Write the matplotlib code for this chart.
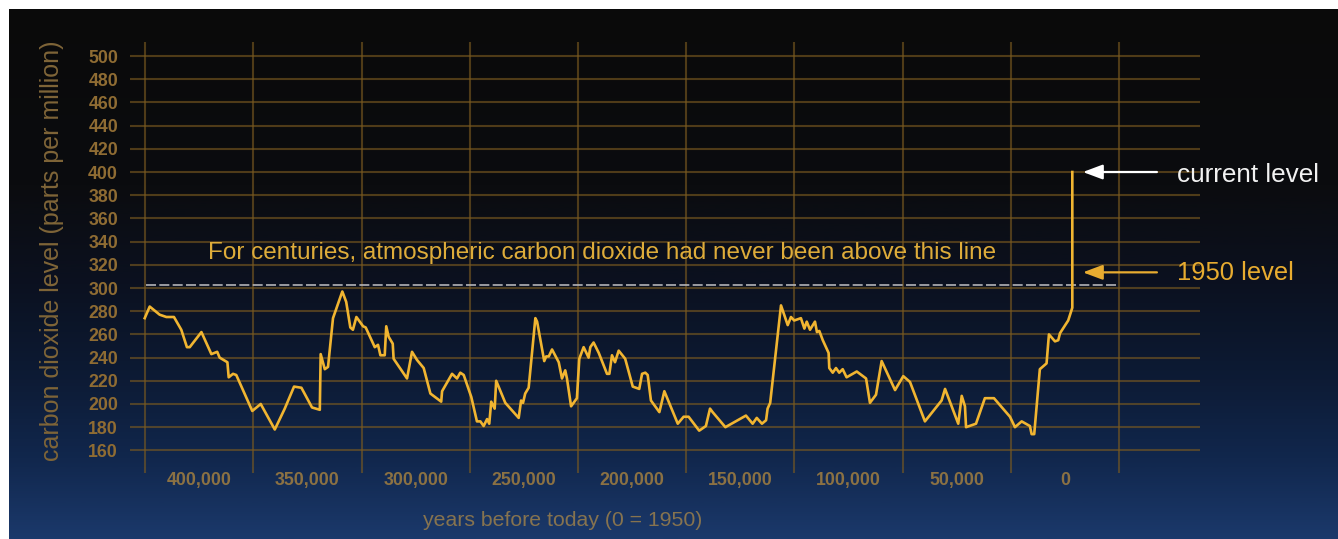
import numpy as np
import matplotlib
matplotlib.use("Agg")
import matplotlib.pyplot as plt
from matplotlib.colors import LinearSegmentedColormap

plt.rcParams['font.family'] = ['Liberation Sans', 'DejaVu Sans']

# Ice-core CO2 record: thousands of years before 1950 and CO2 in ppm
years_kyr = [
    425.2, 422.9, 418.3, 415.2, 411.7, 408.3, 405.7, 404.4, 399.0, 394.4,
    391.7, 390.6, 387.0, 386.4, 384.4, 382.9, 375.5, 371.6, 365.1, 360.5,
    356.2, 352.8, 347.9, 344.3, 343.9, 342.0, 340.5, 338.2, 333.9, 332.1,
    330.2, 329.0, 327.4, 324.3, 323.1, 318.9, 317.4, 316.3, 314.3, 313.6,
    312.5, 310.6, 310.2, 304.0, 301.7, 299.4, 296.3, 293.2, 288.2, 287.8,
    283.2, 280.9, 279.4, 277.8, 274.3, 271.7, 270.1, 268.6, 267.0, 266.0,
    265.1, 263.5, 262.8, 258.6, 252.4, 251.3, 250.4, 249.4, 247.8, 244.7,
    243.9, 240.6, 239.7, 238.5, 237.0, 233.9, 232.4, 230.9, 230.1, 228.2,
    225.5, 224.4, 222.4, 220.1, 219.3, 217.8, 215.4, 211.6, 210.5, 209.3,
    207.9, 206.2, 203.2, 199.7, 196.7, 195.4, 193.9, 192.8, 191.3, 187.4,
    185.1, 178.9, 176.2, 173.9, 169.0, 165.9, 164.0, 162.8, 156.9, 147.4,
    144.3, 142.4, 140.0, 138.1, 137.4, 136.2, 131.2, 128.1, 126.6, 125.1,
    122.0, 120.4, 119.3, 117.8, 115.5, 114.6, 113.5, 111.9, 109.2, 108.9,
    107.3, 105.8, 104.3, 102.7, 100.9, 96.2, 91.9, 90.1, 87.3, 84.7,
    78.5, 74.7, 71.6, 64.7, 57.0, 55.4, 49.3, 47.7, 46.2, 45.7,
    41.1, 37.0, 32.8, 25.4, 23.1, 20.0, 16.2, 15.4, 14.2, 11.6,
    8.5, 7.4, 4.6, 3.1, 2.3, -1.5, -3.4, -3.4,
]
co2_ppm = [
    274, 284, 277, 275, 275, 264, 249, 249, 262, 243,
    245, 240, 236, 223, 226, 225, 194, 200, 178, 196,
    215, 214, 197, 195, 243, 230, 232, 274, 297, 288,
    266, 264, 275, 267, 266, 249, 251, 242, 242, 267,
    258, 252, 239, 222, 245, 238, 231, 209, 202, 211,
    226, 222, 227, 225, 206, 185, 185, 181, 187, 183,
    202, 196, 220, 201, 188, 203, 201, 209, 214, 274,
    271, 237, 241, 241, 247, 236, 222, 229, 222, 198,
    205, 239, 249, 240, 249, 253, 244, 226, 226, 242,
    236, 246, 239, 215, 213, 226, 227, 225, 203, 193,
    211, 183, 189, 189, 177, 181, 196, 193, 180, 190,
    183, 188, 183, 186, 196, 201, 285, 268, 275, 272,
    274, 265, 271, 264, 271, 262, 263, 255, 244, 231,
    227, 231, 227, 230, 223, 228, 222, 201, 208, 237,
    212, 224, 219, 185, 203, 213, 183, 207, 198, 180,
    183, 205, 205, 189, 180, 185, 181, 174, 174, 230,
    235, 260, 254, 255, 261, 272, 283, 400,
]

ytick_values = list(range(160, 501, 20))
xtick_values = [400, 350, 300, 250, 200, 150, 100, 50, 0]
xtick_labels = ["400,000", "350,000", "300,000", "250,000", "200,000",
                "150,000", "100,000", "50,000", "0"]
xgrid_values = list(range(-25, 426, 50))
threshold_ppm = 302.5

W, H = 1338, 539
fig = plt.figure(figsize=(W / 100, H / 100), dpi=100, facecolor="white")

# Background: near-black at the top fading into deep navy at the bottom
bg = fig.add_axes([9 / W, 0, (W - 9) / W, (H - 9) / H])
bg.set_axis_off()
stops = [
    (0.00, "#0a0a0a"),
    (0.33, "#0b0c0f"),
    (0.52, "#0b1120"),
    (0.70, "#0d1b35"),
    (0.85, "#11274d"),
    (1.00, "#1b396b"),
]
cmap = LinearSegmentedColormap.from_list("sky", stops)
grad = np.linspace(0, 1, 512).reshape(-1, 1)
bg.imshow(grad, aspect="auto", cmap=cmap, extent=[0, 1, 0, 1], origin="upper")

# Main plotting area
ax = fig.add_axes([130 / W, 1 - 473 / H, 1070 / W, 431 / H])
ax.set_facecolor("none")
for s in ax.spines.values():
    s.set_visible(False)

ax.set_xlim(432.0, -62.4)
ax.set_ylim(140.5, 512.1)

grid_kw = dict(color="#7a5a20", alpha=0.62, linewidth=1.5)
ax.set_yticks(ytick_values)
ax.set_xticks(xtick_values)
ax.set_xticklabels(xtick_labels)
ax.set_xticks(xgrid_values, minor=True)
ax.grid(axis="y", which="major", **grid_kw)
ax.grid(axis="x", which="minor", **grid_kw)
ax.grid(axis="x", which="major", visible=False)
ax.tick_params(axis="both", which="both", length=0)
ax.tick_params(axis="y", pad=8.6, labelsize=12.8, labelcolor="#8f6c33")
ax.tick_params(axis="x", pad=-1, labelsize=12.8, labelcolor="#8b7143")
for lab in ax.get_xticklabels() + ax.get_yticklabels():
    lab.set_fontweight("bold")

# Pre-industrial ceiling
ax.plot([424.5, -25], [threshold_ppm, threshold_ppm], color="#b4b4b8",
        linewidth=1.2, dashes=(6, 2), zorder=3)
ax.text(213.7, 324.7,
        "For centuries, atmospheric carbon dioxide had never been above this line",
        ha="center", va="baseline", fontsize=17.5, color="#deac3a")

# CO2 curve
ax.plot(years_kyr, co2_ppm, color="#f1b531", linewidth=1.9,
        solid_joinstyle="round", zorder=4)

# Callouts
ax.annotate("", xy=(-8.3, 400), xytext=(-42.5, 400),
            arrowprops=dict(arrowstyle="-|>,head_length=1.2,head_width=0.45",
                            color="white", lw=1.6, shrinkA=0, shrinkB=0),
            annotation_clip=False)
ax.annotate("", xy=(-8.3, 313.5), xytext=(-42.5, 313.5),
            arrowprops=dict(arrowstyle="-|>,head_length=1.2,head_width=0.45",
                            color="#e8ac30", lw=1.6, shrinkA=0, shrinkB=0),
            annotation_clip=False)
ax.text(-51.7, 391.6, "current level", ha="left", va="baseline",
        fontsize=18.8, color="#f2f2f2", clip_on=False)
ax.text(-51.7, 306.9, "1950 level", ha="left", va="baseline",
        fontsize=18.4, color="#e8ac30", clip_on=False)

# Axis titles
fig.text(52 / W, 1 - 251 / H, "carbon dioxide level (parts per million)",
         rotation=90, ha="center", va="center", fontsize=18, color="#7f6538")
fig.text(563 / W, 1 - 521 / H, "years before today (0 = 1950)",
         ha="center", va="center", fontsize=15.3, color="#86734f")

fig.savefig("out.png", dpi=100, facecolor=fig.get_facecolor())
